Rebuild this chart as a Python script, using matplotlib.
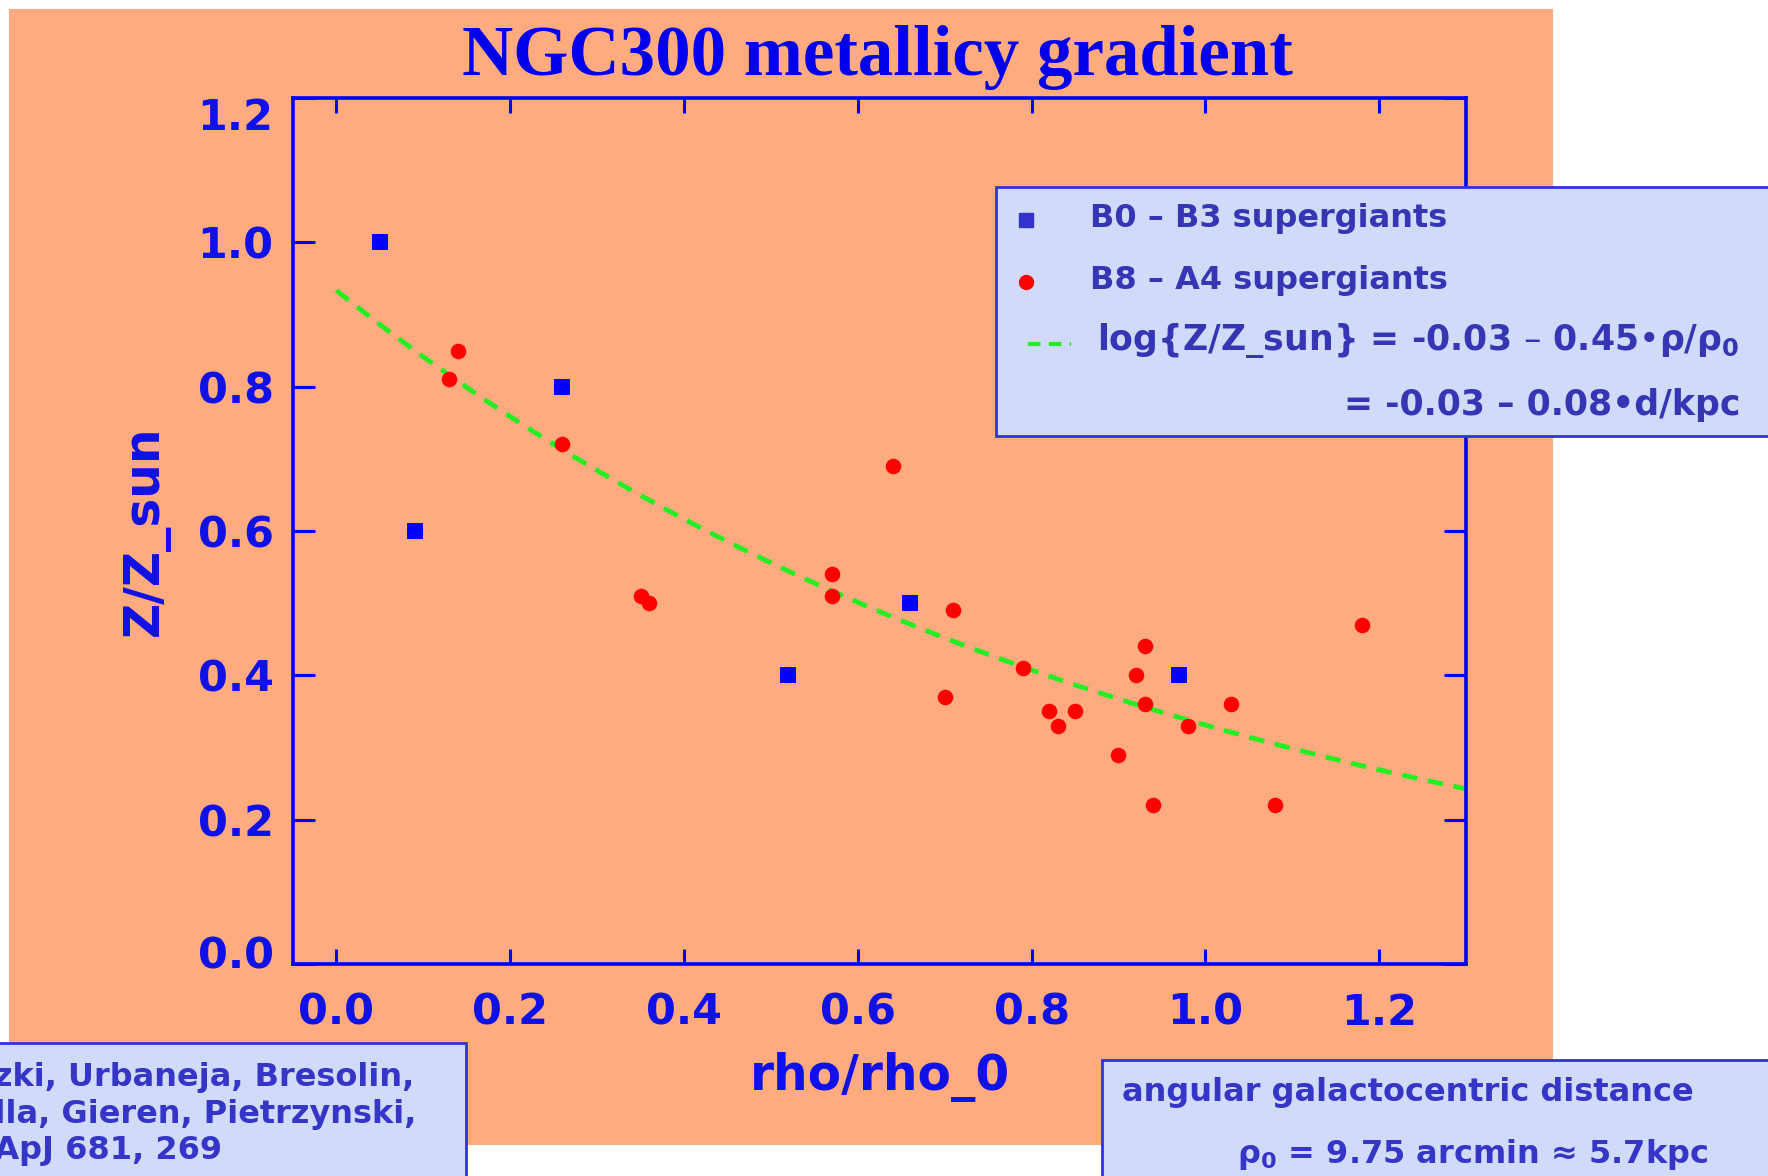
import matplotlib
matplotlib.use('Agg')
import matplotlib.pyplot as plt
import numpy as np
from matplotlib.patches import Rectangle
from matplotlib.lines import Line2D
from matplotlib.transforms import ScaledTranslation

# B0 - B3 supergiants
b_rho = [0.05, 0.09, 0.26, 0.52, 0.66, 0.97]
b_z = [1.00, 0.60, 0.80, 0.40, 0.50, 0.40]

# B8 - A4 supergiants
a_rho = [0.14, 0.13, 0.26, 0.35, 0.36, 0.57, 0.57, 0.64, 0.71, 0.70, 0.79,
         0.82, 0.83, 0.85, 0.90, 0.92, 0.93, 0.93, 0.94, 0.98, 1.03, 1.08, 1.18]
a_z = [0.85, 0.81, 0.72, 0.51, 0.50, 0.54, 0.51, 0.69, 0.49, 0.37, 0.41,
       0.35, 0.33, 0.35, 0.29, 0.40, 0.44, 0.36, 0.22, 0.33, 0.36, 0.22, 0.47]

# log(Z/Z_sun) = fit_a + fit_b * rho/rho_0
fit_a = -0.03
fit_b = -0.45
fit_start, fit_end = 0.0, 1.3

x_ticks = [0.0, 0.2, 0.4, 0.6, 0.8, 1.0, 1.2]
y_ticks = [0.0, 0.2, 0.4, 0.6, 0.8, 1.0, 1.2]

W, H = 1768, 1176
SALMON = '#FFAA7F'
LAVENDER = '#D2DAFA'
BLUE = '#0000FF'
LBL = '#1010E8'
TXT = '#3636B4'

plt.rcParams['mathtext.fontset'] = 'dejavusans'


def fx(px):
    return px / W


def fy(py):
    return 1 - py / H


fig = plt.figure(figsize=(W / 100, H / 100), dpi=100)
fig.patch.set_facecolor('white')
fig.add_artist(Rectangle((fx(9), fy(1145)), fx(1553 - 9), (1145 - 9) / H,
                         transform=fig.transFigure, facecolor=SALMON,
                         edgecolor='none', zorder=-10))

ax = fig.add_axes([fx(293), fy(964), (1466 - 293) / W, (964 - 98) / H])
ax.set_facecolor(SALMON)

xs = np.linspace(fit_start, fit_end, 200)
ax.plot(xs, 10 ** (fit_a + fit_b * xs), color='#22EE22', lw=3.5,
        dashes=(3.2, 2.2), zorder=2)
ax.scatter(b_rho, b_z, marker='s', s=120, color=BLUE, lw=0, zorder=3)
ax.scatter(a_rho, a_z, marker='o', s=125, color='#FF0000', lw=0, zorder=3)

ax.set_xlim(-0.05, 1.3)
ax.set_ylim(0, 1.2)
ax.set_xticks(x_ticks)
ax.set_yticks(y_ticks)
ax.set_xticklabels([f'{t:.1f}' for t in x_ticks])
ax.set_yticklabels([f'{t:.1f}' for t in y_ticks])

for s in ax.spines.values():
    s.set_color(BLUE)
    s.set_linewidth(2.6)

tick_font = dict(family='DejaVu Sans', weight='bold', size=31)
ax.tick_params(axis='x', direction='in', length=11, width=2.2, color=BLUE,
               top=True, pad=20, labelcolor=LBL)
ax.tick_params(axis='y', direction='in', length=16, width=2.2, color=BLUE,
               right=True, pad=14, labelcolor=LBL)
for lab in ax.get_xticklabels() + ax.get_yticklabels():
    lab.set_fontproperties(matplotlib.font_manager.FontProperties(**tick_font))

# end labels of the y axis sit inside the frame
yt = ax.yaxis.get_major_ticks()
yt[0].label1.set_transform(yt[0].label1.get_transform() +
                           ScaledTranslation(0, 12 / 100, fig.dpi_scale_trans))
yt[-1].label1.set_transform(yt[-1].label1.get_transform() +
                            ScaledTranslation(0, -15 / 100, fig.dpi_scale_trans))

axis_font = dict(family='DejaVu Sans', weight='bold', size=35)
ax.set_xlabel('rho/rho_0', fontdict=axis_font, color=LBL)
ax.xaxis.set_label_coords(0.5, -0.13)
ax.xaxis.label.set_va('center')
ax.set_ylabel('Z/Z_sun', fontdict=axis_font, color=LBL)
ax.yaxis.set_label_coords(-0.125, 0.5)
ax.yaxis.label.set_va('center')

fig.text(fx(877), fy(75), 'NGC300 metallicy gradient', ha='center',
         va='baseline', family='Liberation Serif', weight='bold', size=51,
         color='#0000EE')

# panels
box = dict(transform=fig.transFigure, facecolor=LAVENDER, edgecolor='#3030E0',
           lw=2, zorder=5)
fig.add_artist(Rectangle((fx(996), fy(436)), fx(800), (436 - 187) / H, **box))
fig.add_artist(Rectangle((fx(-20), fy(1200)), fx(486), (1200 - 1043) / H, **box))
fig.add_artist(Rectangle((fx(1102), fy(1200)), fx(700), (1200 - 1060) / H, **box))

fig.add_artist(Line2D([fx(1026)], [fy(220)], transform=fig.transFigure,
                      marker='s', ms=10, color='#3333CC', lw=0, zorder=6))
fig.add_artist(Line2D([fx(1026)], [fy(282)], transform=fig.transFigure,
                      marker='o', ms=10, color='#FF0000', lw=0, zorder=6))
fig.add_artist(Line2D([fx(1028), fx(1071)], [fy(344), fy(344)],
                      transform=fig.transFigure, color='#22EE22', lw=3,
                      dashes=(3.0, 2.0), zorder=6))

lf = dict(family='DejaVu Sans', weight='bold', size=23, color=TXT,
          va='center', ha='left', zorder=7)
fig.text(fx(1090), fy(218), 'B0 – B3 supergiants', **lf)
fig.text(fx(1090), fy(281), 'B8 – A4 supergiants', **lf)
lf['size'] = 25
fig.text(fx(1097), fy(341), r'log{Z/Z_sun} = -0.03 – 0.45•ρ/$\mathregular{ρ_0}$', **lf)
fig.text(fx(1344), fy(405), '= -0.03 – 0.08•d/kpc', **lf)

bf = dict(family='DejaVu Sans', weight='bold', size=23, color='#3535C8',
          zorder=7)
fig.text(fx(-118), fy(1114),
         'Kudritzki, Urbaneja, Bresolin,\nPrzybilla, Gieren, Pietrzynski,\n'
         '2008, ApJ 681, 269', ha='left', va='center', linespacing=1.22, **bf)

fig.text(fx(1122), fy(1092), 'angular galactocentric distance', ha='left',
         va='center', **bf)
fig.text(fx(1237), fy(1155), r'$\mathregular{ρ_0}$ = 9.75 arcmin ≈ 5.7kpc',
         ha='left', va='center', **bf)

fig.savefig('out.png', dpi=100)
